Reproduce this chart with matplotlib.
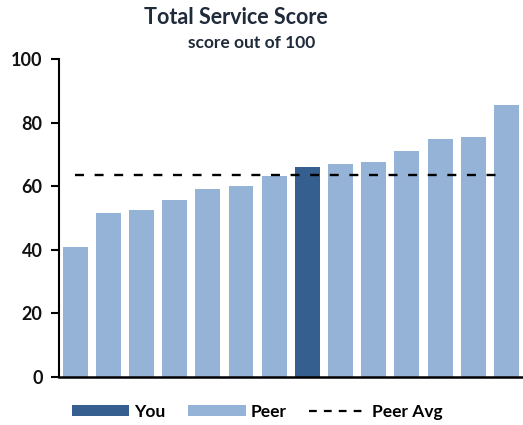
import matplotlib
matplotlib.use('Agg')
import matplotlib.pyplot as plt
from matplotlib.patches import Patch
from matplotlib.lines import Line2D

plt.rcParams['font.family'] = ['Lato', 'DejaVu Sans']

# Scores, sorted low to high; index 7 is "You"
scores = [40.8, 51.5, 52.6, 55.7, 59.2, 60.1, 63.3, 66.2, 66.9, 67.5, 71.1, 75.0, 75.5, 85.5]
you_index = 7
peer_avg = 63.5
yticks = [0, 20, 40, 60, 80, 100]

you_color = '#355f8f'
peer_color = '#95b3d7'

fig = plt.figure(figsize=(5.23, 4.25), dpi=100)
ax = fig.add_axes([0.112, 0.1137, 0.888, 0.747])

x = list(range(len(scores)))
colors = [you_color if i == you_index else peer_color for i in x]
ax.bar(x, scores, width=0.75, color=colors, zorder=2)
ax.plot([x[0], x[-1]], [peer_avg, peer_avg], color='black', linestyle=(0, (3.8, 4.5)),
        linewidth=1.7, zorder=3)

ax.set_xlim(-0.5, len(scores) - 0.5)
ax.set_ylim(0, 100)
ax.set_yticks(yticks)
ax.set_xticks([])
ax.tick_params(axis='y', direction='out', length=5.5, width=1.5, pad=6,
               labelsize=13, labelcolor='#111111')
for lbl in ax.get_yticklabels():
    lbl.set_fontweight('bold')
ax.spines['top'].set_visible(False)
ax.spines['right'].set_visible(False)
ax.spines['left'].set_linewidth(1.5)
ax.spines['bottom'].set_linewidth(1.8)

fig.text(0.451, 0.958, 'Total Service Score', ha='center', va='center',
         fontsize=15.5, fontweight='bold', color='#1f2a3a')
fig.text(0.482, 0.899, 'score out of 100', ha='center', va='center',
         fontsize=12.5, fontweight='bold', color='#1f2a3a')

handles = [Patch(facecolor=you_color, edgecolor='none'),
           Patch(facecolor=peer_color, edgecolor='none'),
           Line2D([0], [0], color='black', linestyle=(0, (3.5, 3.2)), linewidth=1.6)]
fig.legend(handles, ['You', 'Peer', 'Peer Avg'], loc='center', ncol=3,
           bbox_to_anchor=(0.492, 0.031), frameon=False,
           prop={'size': 12.5, 'weight': 'bold'}, handlelength=3.3,
           handleheight=0.6, handletextpad=0.3, columnspacing=1.3)

fig.savefig('out.png', dpi=100)
